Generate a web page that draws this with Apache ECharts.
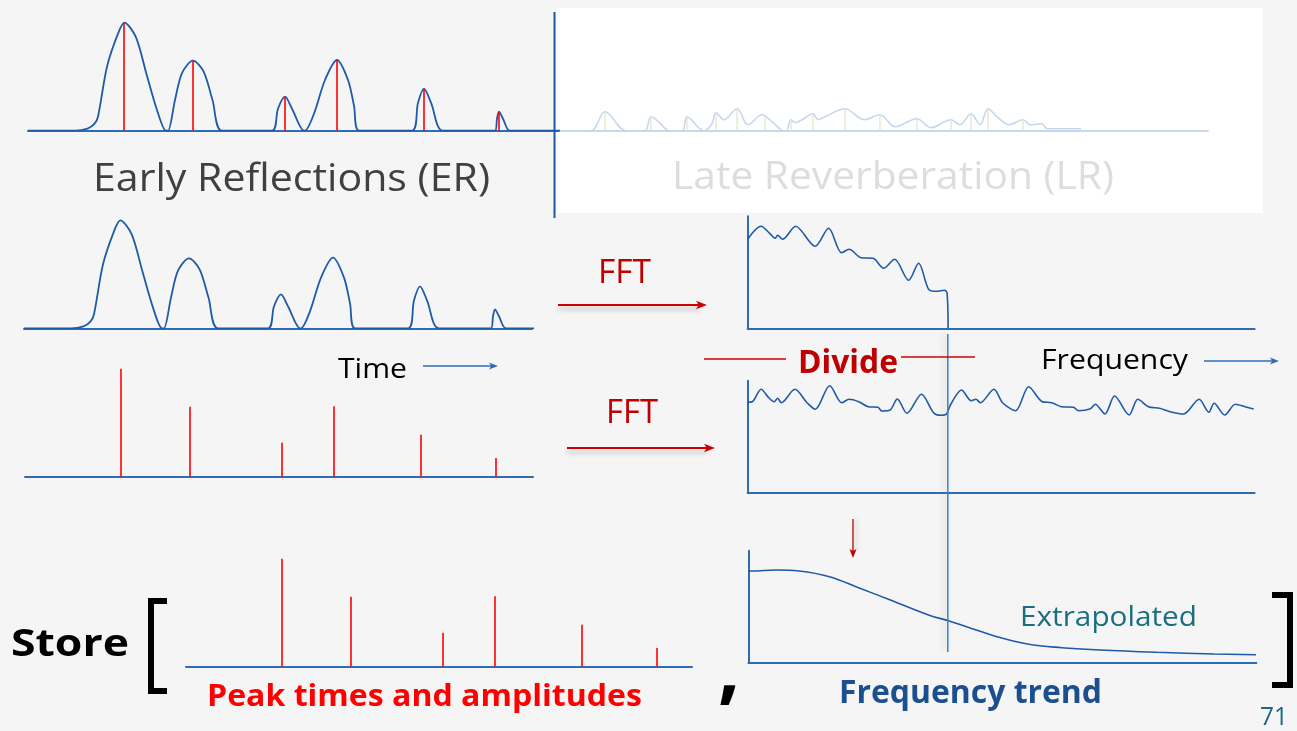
<!DOCTYPE html>
<html>
<head>
<meta charset="utf-8">
<script src="https://cdn.jsdelivr.net/npm/echarts@6/dist/echarts.min.js"></script>
<style>
html,body{margin:0;padding:0;background:#f5f5f5;}
#c{width:1297px;height:731px;}
</style>
</head>
<body>
<div id="c"></div>
<script>
// ---- Early reflections impulse response (time offset, amplitude) ----
const erCurveT = [0, 47, 59.5, 66.6, 70, 79, 90, 96.3, 107.7, 118.4, 129, 138, 140, 147, 154, 165, 175.6, 184.5, 194, 244, 250, 257, 264, 276, 277, 286, 297, 309, 320, 326, 331, 384, 390, 396, 403, 415, 467, 469, 471, 475, 482, 532];
const erCurveA = [0, 0, 2, 7, 14, 64, 97, 108, 94, 57, 20.7, 0, 0, 30.7, 57.6, 70, 59, 30.7, 0, 0, 22, 34, 22, 0, 0, 17, 50.7, 70.7, 50.7, 25, 0, 0, 28, 42, 28, 0, 0, 12, 19, 12, 0, 0];
// ---- Peak times and amplitudes (stems) ----
const peakTimes = [96, 165, 257, 309, 396, 471];
const peakAmps  = [108, 70, 34, 70.5, 42, 18.7];
// ---- Late reverberation (faded) ----
const lrCurveT = [0, 31, 45, 66, 85, 91, 108, 115, 123, 127, 144, 152, 156, 164, 177, 188, 202, 212, 222, 226, 231, 235, 242, 253, 258, 265, 285, 304, 320, 335, 357, 371, 391, 400, 411, 420, 428, 437, 449, 463, 470, 482, 487, 521];
const lrCurveA = [0, 0, 19, 0, 0, 14, 0, -2, 0, 14, 0, 7, 18, 11, 22, 6, 16, 9, 0, -1, 11, 8, 11, 17, 11, 14, 22, 11, 16, 4, 12, 3, 11, 6, 17, 6, 22, 14, 6, 11, 6, 7, 2, 2];
const lrStemT = [45, 91, 127, 156, 177, 205, 231, 253, 285, 320, 357, 391, 411, 428, 463];
const lrStemA = [19, 14, 14, 18, 22, 14, 11, 17, 22, 16, 12, 11, 17, 22, 11];
// ---- FFT of early reflections ----
const fftErFreq = [0, 13.5, 22, 27.5, 30, 35, 48, 67.5, 81, 94, 101.5, 113.5, 125.5, 136, 147, 161, 171, 181, 188.5, 197, 199.5, 200.5];
const fftErMag  = [89, 102, 95, 90, 93, 89, 102, 82, 100, 75.6, 79, 70.6, 70, 60, 69, 48, 65, 39, 37, 38, 35, 0];
// ---- FFT of peak train ----
const fftPkFreq = [0, 4.8, 13.5, 20.8, 26.6, 30, 33.8, 47.3, 59.4, 67.6, 82.1, 94.2, 101.4, 111.1, 120.7, 130.4, 134.3, 142.5, 149.7, 159.4, 173.9, 185.9, 193.2, 198.9, 202.8, 213.9, 223.6, 228.4, 232.8, 246.3, 255, 268, 281.1, 294.6, 304.2, 313.9, 325.9, 330.8, 342.9, 347.7, 357.3, 367, 381.5, 390.2, 400.8, 411.9, 422.5, 436, 451.5, 461.2, 466.5, 477.1, 487.7, 497.4, 506.1];
const fftPkMag  = [90.4, 91, 103.4, 95.4, 91, 94.4, 90, 103.4, 90, 83.4, 107, 90, 93.4, 91, 86, 85.4, 81.7, 82.7, 93.7, 79.4, 98.4, 80, 77.4, 78.7, 87.7, 102.7, 92, 93.4, 90, 103.4, 90, 82, 106, 91, 90, 86, 85.4, 82, 84, 88.4, 78.7, 96.7, 77.7, 93.4, 86, 84.4, 81, 78.7, 93.4, 80.4, 89.4, 77.7, 88.4, 86, 83.7];
// ---- Frequency trend (extrapolated) ----
const trendFreq = [0, 3, 27.8, 50.6, 81.1, 111.5, 142, 180.1, 199.9, 218.2, 248.6, 279.1, 313.4, 351.4, 408.6, 465.7, 507.6];
const trendMag  = [91.7, 91.7, 92.7, 91.7, 86, 74.4, 62.7, 47.7, 42, 36, 26, 18.7, 15, 12.7, 10.4, 8.7, 8];
// ---- Labels ----
const labels = {
  er: 'Early Reflections (ER)', lr: 'Late Reverberation (LR)', time: 'Time', freq: 'Frequency',
  fft: 'FFT', divide: 'Divide', store: 'Store', peaks: 'Peak times and amplitudes',
  trend: 'Frequency trend', extra: 'Extrapolated', page: '71'
};

const zip = (a, b) => a.map((v, i) => [v, b[i]]);
const FONT = '"Open Sans", "Noto Sans", sans-serif';
const AX = '#2e6db4', CURVE = '#1f5aa6', RED = '#ff0000', DRED = '#c00000';

const grids = [
  {left: 28,    top: 10.7,  width: 532, height: 120, xmax: 532, ymax: 120, yLine: false, col: AX},   // 0 ER top
  {left: 24,    top: 208.3, width: 508, height: 120, xmax: 508, ymax: 120, yLine: false, col: AX},   // 1 ER middle
  {left: 25,    top: 356.7, width: 508, height: 120, xmax: 508, ymax: 120, yLine: false, col: AX},   // 2 stems
  {left: 186,   top: 546.7, width: 506, height: 120, xmax: 506, ymax: 120, yLine: false, col: AX},   // 3 store stems
  {left: 747.6, top: 216.3, width: 507, height: 112, xmax: 507, ymax: 112, yLine: true,  col: AX},   // 4 FFT ER
  {left: 747.6, top: 380.7, width: 507, height: 112, xmax: 507, ymax: 112, yLine: true,  col: AX},   // 5 FFT peaks
  {left: 748.4, top: 550.7, width: 508, height: 112, xmax: 508, ymax: 112, yLine: true,  col: AX},   // 6 trend
  {left: 560,   top: 10.7,  width: 648, height: 120, xmax: 648, ymax: 120, yLine: false, col: '#c9d9ec'} // 7 LR
];

function stems(gi, t, a, color, w) {
  return {
    type: 'custom', xAxisIndex: gi, yAxisIndex: gi, silent: true, z: 3,
    data: zip(t, a),
    renderItem: function (params, api) {
      const p0 = api.coord([api.value(0), 0]);
      const p1 = api.coord([api.value(0), api.value(1)]);
      return {type: 'line', shape: {x1: p0[0], y1: p0[1], x2: p1[0], y2: p1[1]},
              style: {stroke: color, lineWidth: w}};
    }
  };
}
function curve(gi, t, a, color, w, smooth) {
  return {type: 'line', xAxisIndex: gi, yAxisIndex: gi, data: zip(t, a), showSymbol: false,
          smooth: smooth, silent: true, lineStyle: {color: color, width: w}, z: 2};
}
const mctx = document.createElement('canvas').getContext('2d');
// text fitted between x1 and x2, vertically centred on cy
function fitText(text, x1, x2, cy, size, color, bold) {
  const font = (bold ? 'bold ' : '') + size + 'px ' + FONT;
  mctx.font = font;
  const w = mctx.measureText(text).width;
  const s = (x2 - x1) / w;
  return {type: 'text', z: 50, x: (x1 + x2) / 2, y: cy, scaleX: s,
    style: {text: text, x: 0, y: 0, font: font, fill: color,
      textAlign: 'center', textVerticalAlign: 'middle', align: 'center', verticalAlign: 'middle'}};
}
function hArrow(x1, x2, y, color, w, head, shadow) {
  const sh = shadow ? {shadowBlur: 5, shadowColor: 'rgba(0,0,0,0.25)', shadowOffsetY: 4} : {};
  return [
    {type: 'line', z: 40, shape: {x1: x1, y1: y, x2: x2 - head * 0.6, y2: y}, style: Object.assign({stroke: color, lineWidth: w}, sh)},
    {type: 'polygon', z: 40, shape: {points: [[x2, y], [x2 - head, y - head * 0.38], [x2 - head * 0.75, y], [x2 - head, y + head * 0.38]]}, style: {fill: color}}
  ];
}

const series = [
  curve(0, erCurveT, erCurveA, CURVE, 1.8, 0.3),
  stems(0, peakTimes, peakAmps, RED, 1.6),
  curve(1, erCurveT, erCurveA, CURVE, 1.8, 0.3),
  stems(2, peakTimes, peakAmps, RED, 1.6),
  stems(3, peakTimes, peakAmps, RED, 1.6),
  curve(4, fftErFreq, fftErMag, CURVE, 1.6, 0.3),
  curve(5, fftPkFreq, fftPkMag, CURVE, 1.6, 0.3),
  curve(6, trendFreq, trendMag, CURVE, 1.6, 0.4),
  curve(7, lrCurveT, lrCurveA, '#c5d7ee', 1.6, 0.35),
  stems(7, lrStemT, lrStemA, '#e6e4c8', 1.3)
];

const graphic = [
  // white LR panel
  {type: 'rect', z: -10, shape: {x: 557, y: 8, width: 706, height: 205}, style: {fill: '#ffffff'}},
  // vertical divider top row
  {type: 'line', z: 30, shape: {x1: 554.5, y1: 12, x2: 554.5, y2: 218}, style: {stroke: '#1f5aa0', lineWidth: 2}},
  // vertical divider frequency panels
  {type: 'line', z: 30, shape: {x1: 947.8, y1: 334, x2: 947.8, y2: 652},
   style: {stroke: '#3a80c4', lineWidth: 1.5, shadowBlur: 6, shadowColor: 'rgba(0,0,0,0.18)', shadowOffsetX: -3}},
  fitText(labels.er, 93, 490, 180, 38, '#404040', false),
  fitText(labels.lr, 672, 1114, 178, 38, '#dddddd', false),
  fitText(labels.time, 338, 407, 370, 28, '#000000', false),
  ...hArrow(423, 498, 366, AX, 1.5, 9, false),
  fitText(labels.fft, 598, 651, 274, 33, DRED, false),
  ...hArrow(558, 707, 305, '#d00000', 1.8, 11, true),
  fitText(labels.fft, 606, 658, 414, 33, DRED, false),
  ...hArrow(567, 715, 448, '#d00000', 1.8, 11, true),
  {type: 'line', z: 30, shape: {x1: 704, y1: 359, x2: 786, y2: 359}, style: {stroke: '#d00000', lineWidth: 1.5}},
  {type: 'line', z: 30, shape: {x1: 901, y1: 357, x2: 975, y2: 357}, style: {stroke: '#d00000', lineWidth: 1.5}},
  fitText(labels.divide, 798, 898, 364, 32, DRED, true),
  fitText(labels.freq, 1041, 1188, 361, 28, '#000000', false),
  ...hArrow(1204, 1279, 361, AX, 1.5, 9, false),
  // small red down arrow
  {type: 'line', z: 40, shape: {x1: 853, y1: 519, x2: 853, y2: 551}, style: {stroke: '#c00000', lineWidth: 1.3, shadowBlur: 4, shadowColor: 'rgba(0,0,0,0.2)', shadowOffsetX: 3}},
  {type: 'polygon', z: 40, shape: {points: [[853, 558], [849.5, 549], [853, 551], [856.5, 549]]}, style: {fill: '#c00000'}},
  fitText(labels.extra, 1020, 1197, 618, 28, '#1a6e80', false),
  fitText(labels.store, 11, 129, 645, 37, '#000000', true),
  {type: 'polyline', z: 40, shape: {points: [[167, 601], [151, 601], [151, 691], [167, 691]]}, style: {stroke: '#000', lineWidth: 6, fill: null}},
  {type: 'polyline', z: 40, shape: {points: [[1272, 595], [1290, 595], [1290, 685], [1272, 685]]}, style: {stroke: '#000', lineWidth: 6, fill: null}},
  fitText(labels.peaks, 207, 642, 697, 30, '#ff0000', true),
  fitText(',', 718, 740, 672, 80, '#000000', true),
  fitText(labels.trend, 839, 1102, 694, 32, '#1c4f8f', true),
  fitText(labels.page, 1260, 1288, 718, 26, '#1a6880', false)
];

const chart = echarts.init(document.getElementById('c'), null, {renderer: 'canvas'});
chart.setOption({
  backgroundColor: '#f5f5f5',
  animation: false,
  grid: grids.map(g => ({left: g.left, top: g.top, width: g.width, height: g.height, containLabel: false})),
  xAxis: grids.map((g, i) => ({type: 'value', gridIndex: i, min: 0, max: g.xmax,
    axisLine: {show: true, onZero: false, lineStyle: {color: g.col, width: 2}},
    axisTick: {show: false}, axisLabel: {show: false}, splitLine: {show: false}})),
  yAxis: grids.map((g, i) => ({type: 'value', gridIndex: i, min: 0, max: g.ymax,
    axisLine: {show: g.yLine, onZero: false, lineStyle: {color: g.col, width: 2}},
    axisTick: {show: false}, axisLabel: {show: false}, splitLine: {show: false}})),
  series: series,
  graphic: graphic
});
</script>
</body>
</html>
